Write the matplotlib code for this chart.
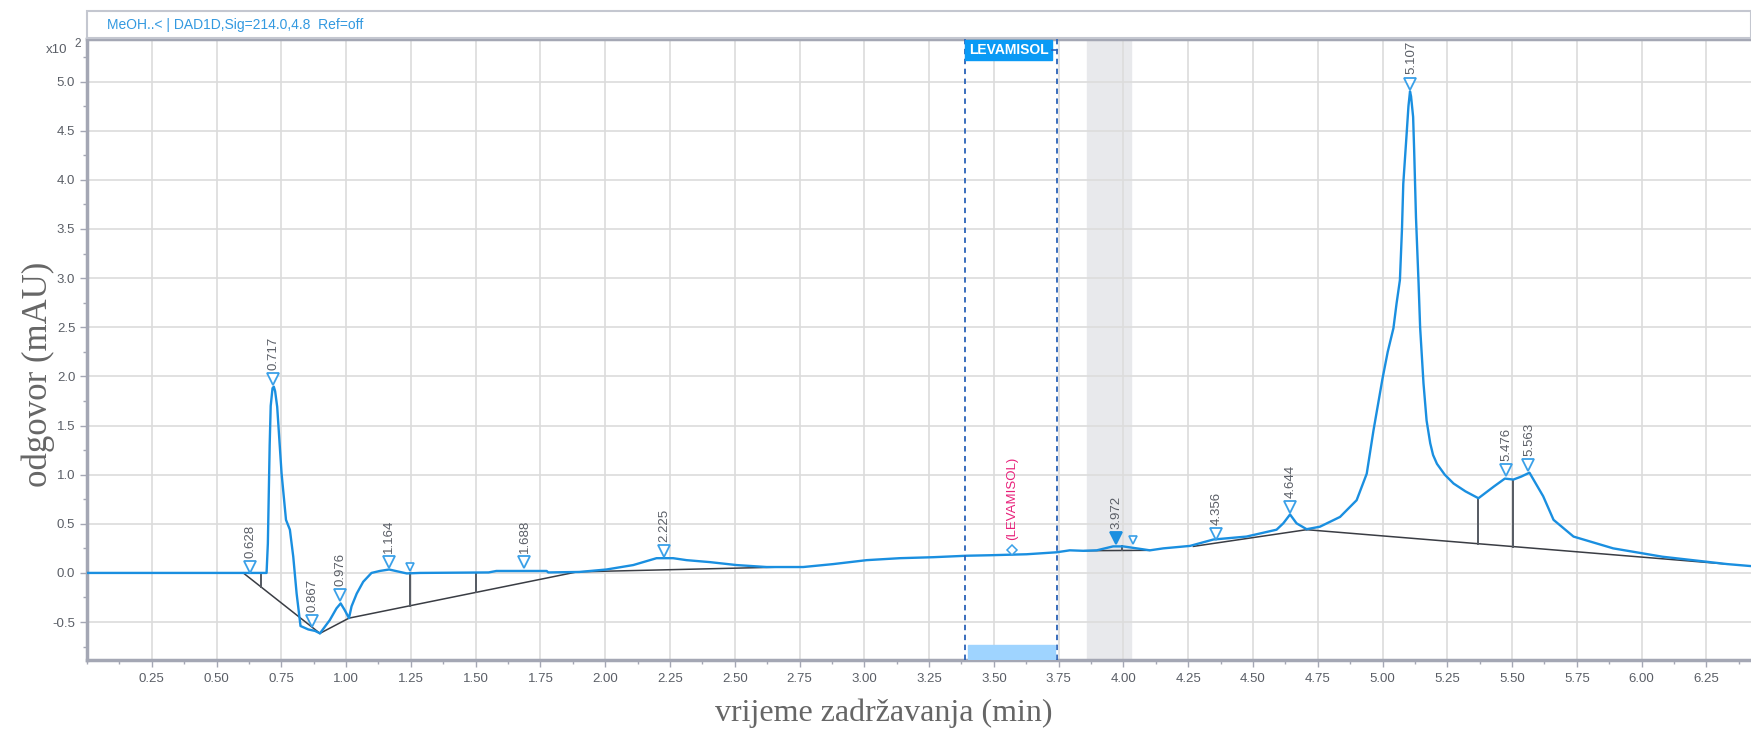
import numpy as np
import matplotlib
matplotlib.use("Agg")
import matplotlib.pyplot as plt
from matplotlib.patches import Rectangle
from matplotlib.ticker import MultipleLocator, FormatStrFormatter

# signal trace, time in min, response in mAU x10^2
trace_t = [0.0, 0.603, 0.693, 0.698, 0.705, 0.709, 0.716, 0.721, 0.726, 0.734, 0.74,
           0.751, 0.768, 0.783, 0.796, 0.809, 0.824, 0.854, 0.88, 0.899, 0.937, 0.963,
           0.979, 0.995, 1.011, 1.021, 1.041, 1.066, 1.098, 1.13, 1.166, 1.208, 1.234,
           1.285, 1.55, 1.58, 1.774, 1.78, 1.9, 2.005, 2.108, 2.198, 2.262, 2.314, 2.404,
           2.507, 2.623, 2.764, 2.88, 3.009, 3.137, 3.266, 3.395, 3.485, 3.626, 3.742,
           3.793, 3.845, 3.897, 3.96, 3.999, 4.051, 4.102, 4.154, 4.257, 4.347, 4.475,
           4.591, 4.617, 4.643, 4.668, 4.707, 4.758, 4.836, 4.9, 4.939, 4.965, 5.0, 5.02,
           5.042, 5.054, 5.067, 5.075, 5.08, 5.093, 5.1, 5.106, 5.11, 5.118, 5.122, 5.129,
           5.139, 5.145, 5.158, 5.17, 5.184, 5.195, 5.21, 5.24, 5.274, 5.32, 5.37, 5.43,
           5.472, 5.505, 5.535, 5.567, 5.62, 5.66, 5.737, 5.89, 6.08, 6.33, 6.42]
trace_y = [0.0, 0.0, 0.0, 0.3, 1.3, 1.7, 1.88, 1.895, 1.85, 1.69, 1.45,
           1.01, 0.54, 0.44, 0.165, -0.21, -0.54, -0.575, -0.59, -0.615, -0.48, -0.36,
           -0.31, -0.38, -0.46, -0.34, -0.21, -0.09, 0.0, 0.02, 0.035, 0.01, -0.005,
           0.0, 0.005, 0.02, 0.02, 0.005, 0.01, 0.035, 0.08, 0.15, 0.15, 0.13, 0.11,
           0.08, 0.06, 0.06, 0.09, 0.13, 0.15, 0.16, 0.175, 0.18, 0.19, 0.21,
           0.23, 0.225, 0.23, 0.27, 0.27, 0.25, 0.23, 0.25, 0.275, 0.34, 0.37,
           0.44, 0.505, 0.595, 0.505, 0.445, 0.47, 0.57, 0.74, 1.01, 1.45, 1.98, 2.25,
           2.49, 2.74, 2.98, 3.5, 3.96, 4.47, 4.75, 4.90, 4.85, 4.64, 4.3, 3.62,
           2.95, 2.5, 1.93, 1.55, 1.32, 1.2, 1.11, 1.0, 0.91, 0.83, 0.76, 0.88,
           0.96, 0.95, 0.98, 1.02, 0.78, 0.54, 0.37, 0.25, 0.165, 0.09, 0.07]

# integration baselines (start t, start y, end t, end y)
baselines = [(0.603, 0.0, 0.899, -0.615),
             (0.899, -0.615, 1.011, -0.46),
             (1.011, -0.46, 1.89, 0.01),
             (1.88, 0.01, 2.69, 0.06),
             (3.85, 0.226, 4.10, 0.23),
             (4.27, 0.27, 4.707, 0.44),
             (4.707, 0.44, 6.33, 0.09)]
drop_t = [0.671, 1.246, 1.50, 3.996, 5.37, 5.505]

# peak marks
peak_t = [0.628, 0.717, 0.867, 0.976, 1.164, 1.688, 2.225, 3.972, 4.356, 4.644, 5.107, 5.476, 5.563]
peak_mark_y = [0.06, 1.97, -0.49, -0.225, 0.115, 0.115, 0.226, 0.36, 0.40, 0.67, 4.98, 1.05, 1.10]
peak_labels = ["0.628", "0.717", "0.867", "0.976", "1.164", "1.688", "2.225", "3.972",
               "4.356", "4.644", "5.107", "5.476", "5.563"]
small_mark_t = [1.246, 4.038]
small_mark_y = [0.057, 0.33]

# expected compound window
comp_name = "LEVAMISOL"
comp_t = 3.569
comp_y = 0.233
window_lo, window_hi = 3.388, 3.745
band_lo, band_hi = 3.858, 4.029

W, H = 1751, 733
fig = plt.figure(figsize=(W / 100, H / 100), dpi=100)
ax = fig.add_axes([87 / W, 1 - 660 / H, 1 - 87 / W, (660 - 39) / H])

blue = "#1a8fe0"
mark_c = "#3aa0e8"
grey_txt = "#5a5e66"
spine_c = "#a4a7b4"

ax.set_xlim(0, 6.422)
ax.set_ylim(-0.886, 5.433)

ax.axvspan(band_lo, band_hi, color="#e8e9ec", zorder=0)
ax.grid(True, color="#dcdcdc", lw=1.2, zorder=0.5)
ax.set_axisbelow(True)

ax.plot(trace_t, trace_y, color=blue, lw=1.7, zorder=3)

for t0, y0, t1, y1 in baselines:
    ax.plot([t0, t1], [y0, y1], color="#3a3d44", lw=1.1, zorder=2.5)
for t in drop_t:
    for t0, y0, t1, y1 in baselines:
        if t0 <= t <= t1:
            yb = y0 + (y1 - y0) * (t - t0) / (t1 - t0)
            break
    ax.plot([t, t], [yb, np.interp(t, trace_t, trace_y)], color="#555a62", lw=1.4, zorder=2.5)

for t, y, lab in zip(peak_t, peak_mark_y, peak_labels):
    filled = lab == "3.972"
    ax.plot(t, y, marker="v", ms=8, mew=1.3, mec=blue if filled else mark_c,
            mfc=blue if filled else "white", zorder=4)
    ax.annotate(lab, (t, y), xytext=(0.5, 6.5), textcoords="offset points", rotation=90,
                ha="center", va="bottom", fontsize=9.5, color=grey_txt, family="Liberation Sans")
ax.plot(small_mark_t, small_mark_y, ls="none", marker="v", ms=6, mew=1.2, mec=mark_c,
        mfc="white", zorder=4)

# compound window
for t in (window_lo, window_hi):
    ax.axvline(t, color="#2a62b8", lw=1.3, ls=(0, (3, 2.5)), zorder=3)
ax.add_patch(Rectangle((3.401, -0.879), 3.736 - 3.401, 0.145, color="#9fd4ff", zorder=3))
ax.add_patch(Rectangle((window_lo, 5.22), 0.338, 0.2, color="#0a9af5", zorder=5))
ax.plot([window_lo + 0.338, window_hi], [5.32, 5.32], color="#2a62b8", lw=1.2, zorder=5)
ax.text(window_lo + 0.169, 5.32, comp_name, color="white", fontsize=10, fontweight="bold",
        ha="center", va="center", family="Liberation Sans", zorder=6)
ax.plot(comp_t, comp_y, marker="D", ms=5.5, mew=1.1, mec=mark_c, mfc="white", zorder=4)
ax.annotate("(" + comp_name + ")", (comp_t, comp_y), xytext=(0, 7), textcoords="offset points",
            rotation=90, ha="center", va="bottom", fontsize=9.5, color="#e8207a",
            family="Liberation Sans")

# axes styling
ax.xaxis.set_major_locator(MultipleLocator(0.25))
ax.xaxis.set_minor_locator(MultipleLocator(0.125))
ax.yaxis.set_major_locator(MultipleLocator(0.5))
ax.yaxis.set_minor_locator(MultipleLocator(0.25))
ax.xaxis.set_major_formatter(FormatStrFormatter("%.2f"))
ax.yaxis.set_major_formatter(FormatStrFormatter("%.1f"))
ax.set_xticks([t for t in np.arange(0.25, 6.3, 0.25)])
ax.tick_params(which="both", colors=spine_c, labelcolor=grey_txt, labelsize=9.5)
ax.tick_params(which="major", length=5, width=1)
ax.tick_params(which="minor", length=3, width=1)
ax.tick_params(axis="x", pad=4)
for lab in ax.get_xticklabels() + ax.get_yticklabels():
    lab.set_family("Liberation Sans")
ax.spines["right"].set_visible(False)
for s in ("left", "bottom", "top"):
    ax.spines[s].set_color(spine_c)
    ax.spines[s].set_linewidth(2.5)

ax.set_xlabel("vrijeme zadržavanja (min)", family="Liberation Serif", fontsize=23,
              color="#666666")
ax.set_ylabel("odgovor (mAU)", family="Liberation Serif", fontsize=25, color="#666666")
ax.xaxis.set_label_coords(0.479, -0.062)
ax.yaxis.set_label_coords(-0.019, 0.46)

# scale factor and signal header
fig.text(46 / W, 1 - 50 / H, "x10", fontsize=9.5, color=grey_txt, va="center",
         family="Liberation Sans")
fig.text(74 / W, 1 - 44 / H, "2", fontsize=8.5, color=grey_txt, va="center",
         family="Liberation Sans")
fig.patches.append(Rectangle((87 / W, 1 - 38 / H), 1 - 87 / W, 27 / H, transform=fig.transFigure,
                             fill=False, edgecolor="#c4c7d0", lw=1.5))
fig.text(107 / W, 1 - 25 / H, "MeOH..< | DAD1D,Sig=214.0,4.8  Ref=off", fontsize=10,
         color="#3399e0", va="center", family="Liberation Sans")

fig.savefig("out.png", dpi=100)
